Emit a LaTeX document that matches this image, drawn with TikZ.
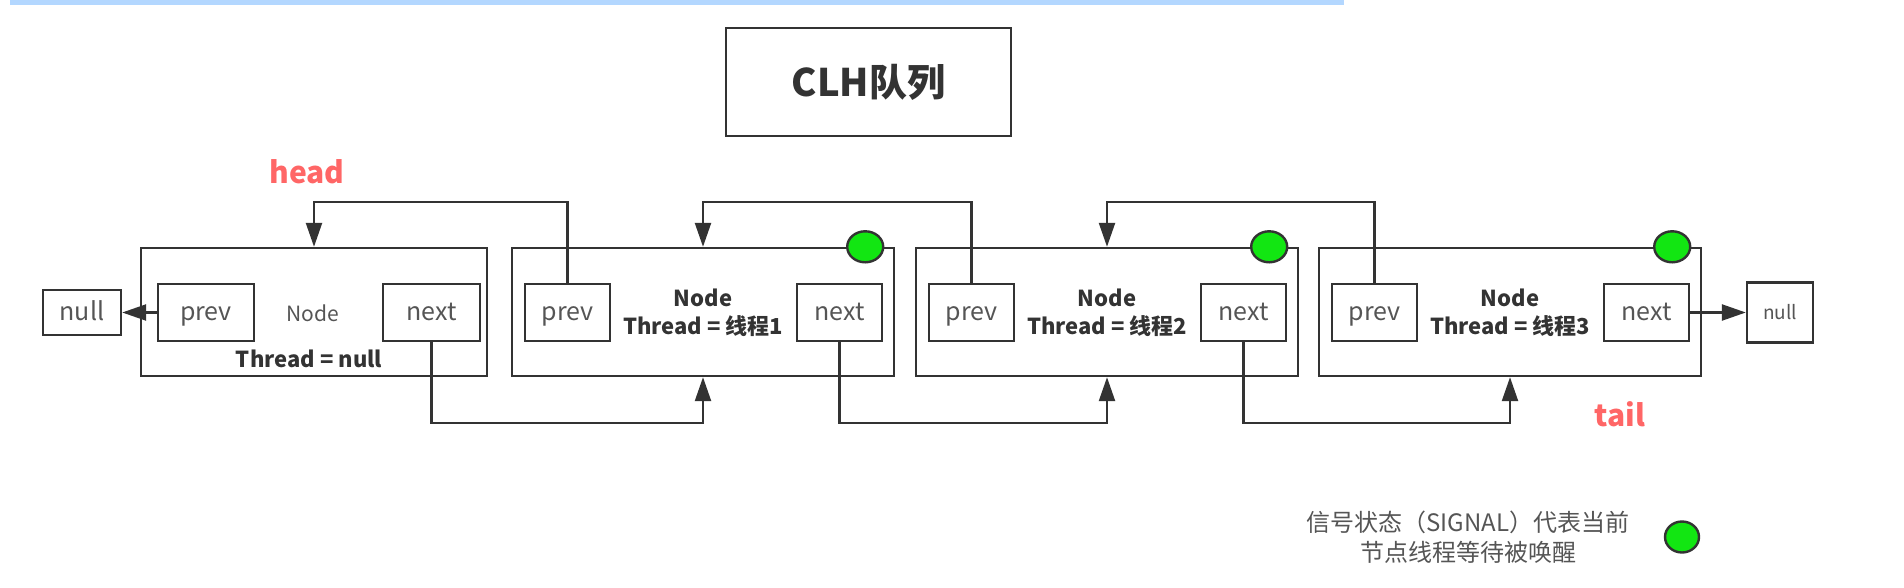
\documentclass[tikz,border=0pt]{standalone}
\usepackage{fontspec}
\setmainfont{Noto Sans CJK SC}
\usepackage{tikz}
\usetikzlibrary{arrows.meta}
\usetikzlibrary{shapes.geometric}

\definecolor{linec}{HTML}{333333}
\definecolor{textc}{HTML}{555555}
\definecolor{redc}{HTML}{FF6666}
\definecolor{sigc}{HTML}{12E612}
\definecolor{barc}{HTML}{B3D7FF}

\begin{document}
\begin{tikzpicture}[x=10pt,y=-10pt,
  bigbox/.style={draw=linec,line width=2.4pt,minimum width=382pt,minimum height=128pt},
  ptrbox/.style={draw=linec,line width=2.4pt,minimum width=85pt,minimum height=57pt,text=textc,text height=20pt,text depth=4pt,font=\fontsize{25}{28}\selectfont},
  sig/.style={ellipse,draw=linec,line width=2.4pt,fill=sigc,minimum width=36pt,minimum height=31pt,inner sep=0pt},
  link/.style={draw=linec,line width=2.4pt,-{Triangle[length=24pt,width=16pt]}},
  lbl/.style={font=\bfseries\fontsize{22}{28}\selectfont,text=linec,align=center},
  redlbl/.style={font=\bfseries\fontsize{30}{34}\selectfont,text=redc}]
\useasboundingbox (0,0) rectangle (190.4,58.8);
\fill[barc] (1.0,0) rectangle (134.4,0.5);
\node[draw=linec,line width=2.4pt,minimum width=285pt,minimum height=108pt,text=linec,font=\bfseries\fontsize{38}{42}\selectfont] (title) at (86.85,8.2) {CLH队列};
\coordinate (top) at (0,20.2);
\coordinate (bot) at (0,42.3);
\node[bigbox,minimum width=346pt] (n0) at (31.4,31.2) {};
\node[ptrbox,minimum width=96pt] (p0) at (20.6,31.25) {prev};
\node[ptrbox,minimum width=97pt] (x0) at (43.15,31.25) {next};
\node[text=textc,font=\fontsize{21}{26}\selectfont] (name0) at (31.3,31.3) {Node};
\node[lbl] (thr0) at (30.9,35.9) {Thread = null};
\foreach \i/\x in {1/70.3,2/110.7,3/151.0} {
  \node[bigbox] (n\i) at (\x,31.2) {};
  \node[ptrbox] (p\i) at (\x-13.55,31.25) {prev};
  \node[ptrbox] (x\i) at (\x+13.65,31.25) {next};
  \node[lbl] (thr\i) at (\x,31.3) {Node\\Thread = 线程\i};
  \node[sig] (s\i) at ([xshift=-30pt]n\i.north east) {};
}
\foreach \i/\j in {1/0,2/1,3/2} {
  \draw[link] (p\i.north) -- (p\i.north |- top) -| (n\j.north);
  \draw[link] (x\j.south) -- (x\j.south |- bot) -| (n\i.south);
}
\node[ptrbox,minimum width=78pt,minimum height=45pt] (nulll) at (8.2,31.25) {null};
\node[ptrbox,minimum width=66pt,minimum height=60pt,text height=16pt,text depth=3pt,font=\fontsize{19}{22}\selectfont] (nullr) at (178.0,31.25) {null};
\draw[link] (p0) -- (nulll);
\draw[link] (x3) -- (nullr);
\node[redlbl] (head) at (30.7,17.2) {head};
\node[redlbl] (tail) at (162.0,41.4) {tail};
\node[text=textc,align=center,font=\fontsize{24}{30}\selectfont] (legend) at (146.8,53.7) {信号状态（SIGNAL）代表当前\\节点线程等待被唤醒};
\node[sig,minimum width=34pt,minimum height=31pt] (legsig) at (168.2,53.7) {};
\end{tikzpicture}
\end{document}
